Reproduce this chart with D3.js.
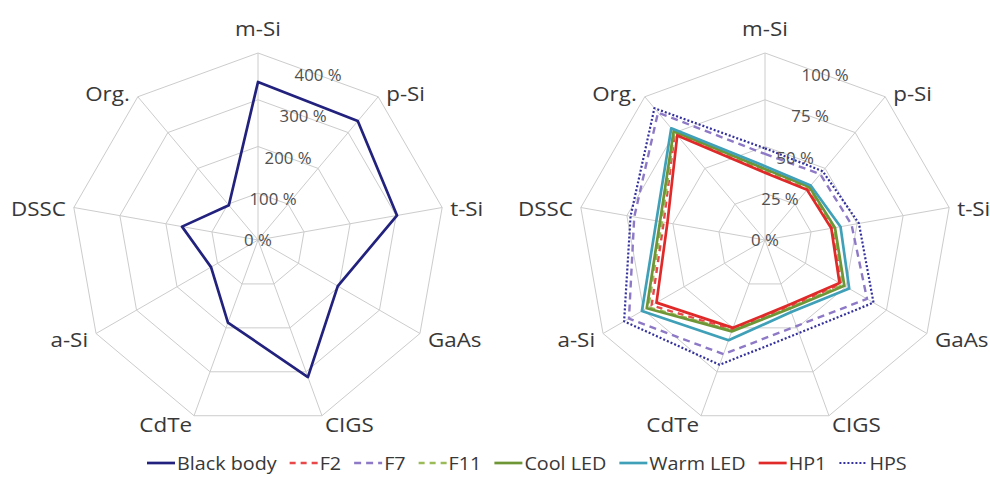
<!DOCTYPE html>
<html>
<head>
<meta charset="utf-8">
<script src="https://cdn.jsdelivr.net/npm/d3@7"></script>
<style>
  html, body { margin: 0; padding: 0; background: #fff; }
  svg { display: block; }
  text { font-family: "Open Sans", "Noto Sans", sans-serif; }
</style>
</head>
<body>
<svg id="chart" width="990" height="477"></svg>
<script>
// Solar cell technologies (radar axes, clockwise from the top)
const categories = ["m-Si", "p-Si", "t-Si", "GaAs", "CIGS", "CdTe", "a-Si", "DSSC", "Org."];

// Left radar: relative output under a black-body spectrum (%)
const blackBody = [338, 332, 302, 197, 312, 188, 116, 165, 97];

// Right radar: relative output under artificial light sources (%)
const f2       = [37, 36, 37, 47, 38, 51, 70, 55, 75];
const f7       = [46, 46, 47, 63, 49, 65, 84, 71, 89];
const f11      = [37.5, 36.5, 37.5, 48, 38.5, 51.5, 72, 56, 75.5];
const coolLED  = [38, 37, 38, 49, 39, 52, 73, 57, 76];
const warmLED  = [39.5, 38, 41, 52, 41, 57, 76, 59, 78];
const hp1      = [36, 35, 36, 46, 37, 50, 67, 53, 73];
const hps      = [49, 48, 51, 67, 53, 71, 87, 73, 92];

// Tick values of the two radial axes
const leftTicks  = [0, 100, 200, 300, 400];
const rightTicks = [0, 25, 50, 75, 100];

// Series styling, in drawing order
const seriesLeft = [
  { name: "Black body", values: blackBody, color: "#22227e", dash: null, width: 2.7 }
];
const seriesRight = [
  { name: "F2",        values: f2,      color: "#e8484a", dash: "6,5", width: 2.4 },
  { name: "F7",        values: f7,      color: "#8d79c6", dash: "7,5", width: 2.4 },
  { name: "F11",       values: f11,     color: "#9bbb59", dash: "6,5", width: 2.4 },
  { name: "Cool LED",  values: coolLED, color: "#6f9636", dash: null,  width: 2.7 },
  { name: "Warm LED",  values: warmLED, color: "#3fa0b8", dash: null,  width: 2.7 },
  { name: "HP1",       values: hp1,     color: "#e02a2a", dash: null,  width: 2.7 },
  { name: "HPS",       values: hps,     color: "#34309c", dash: "2,2", width: 2.2 }
];

const svg = d3.select("#chart");
const gridColor = "#cccccc";
const textColor = "#383838";
const tickColor = "#505050";

const angle = d3.scaleLinear().domain([0, categories.length]).range([0, 2 * Math.PI]);

function drawRadar(cx, cy, radius, ticks, series) {
  const g = svg.append("g").attr("transform", `translate(${cx},${cy})`);
  const r = d3.scaleLinear().domain([0, d3.max(ticks)]).range([0, radius]);
  const pt = (i, v) => [Math.sin(angle(i)) * r(v), -Math.cos(angle(i)) * r(v)];

  const ring = d3.lineRadial()
    .angle((d, i) => angle(i))
    .radius(d => r(d))
    .curve(d3.curveLinearClosed);

  // concentric grid polygons
  g.selectAll("path.ring")
    .data(ticks.filter(t => t > 0))
    .join("path")
    .attr("class", "ring")
    .attr("d", t => ring(categories.map(() => t)))
    .attr("fill", "none")
    .attr("stroke", gridColor)
    .attr("stroke-width", 1);

  // spokes
  g.selectAll("line.spoke")
    .data(categories)
    .join("line")
    .attr("class", "spoke")
    .attr("x1", 0).attr("y1", 0)
    .attr("x2", (d, i) => pt(i, d3.max(ticks))[0])
    .attr("y2", (d, i) => pt(i, d3.max(ticks))[1])
    .attr("stroke", gridColor)
    .attr("stroke-width", 1);

  // category labels outside the outer vertices
  categories.forEach((c, i) => {
    const a = angle(i);
    const s = Math.sin(a), co = Math.cos(a);
    const [vx, vy] = pt(i, d3.max(ticks));
    let x, y, anchor;
    if (Math.abs(s) < 0.1) { anchor = "middle"; x = vx; y = vy - 25; }
    else if (co < -0.9) { anchor = s > 0 ? "start" : "end"; x = vx + (s > 0 ? 3 : -2); y = vy + 8; }
    else {
      anchor = s > 0 ? "start" : "end";
      x = vx + (s > 0 ? 8 : -8);
      y = vy + (co > 0.5 ? -4 : (co < -0.4 ? 5 : 0));
    }
    g.append("text")
      .attr("transform", `translate(${x},${y}) scale(1.12,1)`)
      .attr("text-anchor", anchor)
      .attr("dominant-baseline", "central")
      .attr("font-size", 20)
      .attr("fill", textColor)
      .text(c);
  });

  // series polygons
  const line = d3.lineRadial()
    .angle((d, i) => angle(i))
    .radius(d => r(d))
    .curve(d3.curveLinearClosed);

  series.forEach(sr => {
    g.append("path")
      .attr("d", line(sr.values))
      .attr("fill", "none")
      .attr("stroke", sr.color)
      .attr("stroke-width", sr.width)
      .attr("stroke-dasharray", sr.dash)
      .attr("stroke-linejoin", "round");
  });

  // tick labels at the middle of the first ring edge
  ticks.forEach(t => {
    const [x0, y0] = pt(0, t), [x1, y1] = pt(1, t);
    g.append("text")
      .attr("transform", `translate(${(x0 + x1) / 2},${(y0 + y1) / 2}) scale(1.05,1)`)
      .attr("text-anchor", "middle")
      .attr("dominant-baseline", "central")
      .attr("font-size", 16)
      .attr("fill", tickColor)
      .text(t + " %");
  });
}

drawRadar(258, 240, 187, leftTicks, seriesLeft);
drawRadar(765, 240, 187, rightTicks, seriesRight);

// shared legend along the bottom
const legendItems = seriesLeft.concat(seriesRight);
const legend = svg.append("g").attr("transform", "translate(147,463)");
const legendScale = 1.04;
let lx = 0;
legendItems.forEach(it => {
  legend.append("line")
    .attr("x1", lx).attr("x2", lx + 28)
    .attr("y1", 0).attr("y2", 0)
    .attr("stroke", it.color)
    .attr("stroke-width", it.width)
    .attr("stroke-dasharray", it.dash);
  const t = legend.append("text")
    .attr("transform", `translate(${lx + 30},0) scale(${legendScale},1)`)
    .attr("dominant-baseline", "central")
    .attr("font-size", 19)
    .attr("fill", textColor)
    .text(it.name);
  lx += 30 + t.node().getComputedTextLength() * legendScale + 13;
});
</script>
</body>
</html>
